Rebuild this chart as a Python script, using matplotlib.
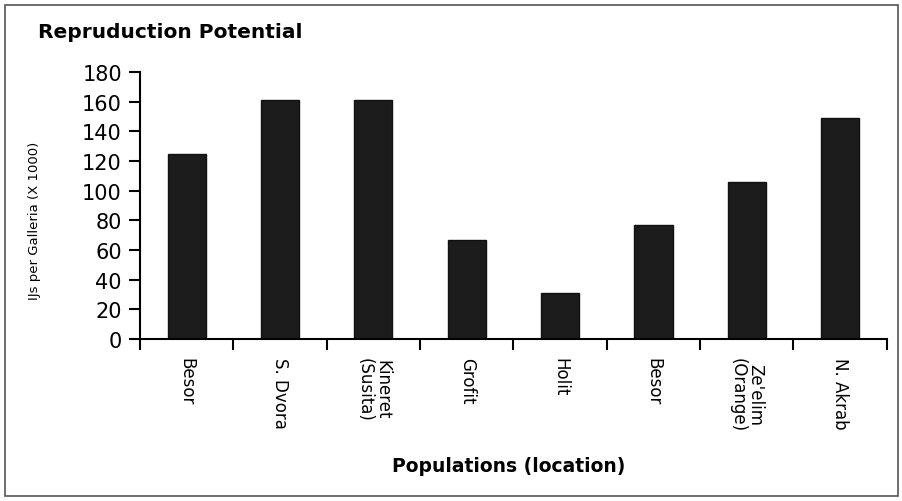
import numpy as np
import matplotlib.pyplot as plt
from matplotlib.patches import Rectangle

# populations and their reproduction potential
populations = ['Besor', 'S. Dvora', 'Kineret\n(Susita)', 'Grofit', 'Holit',
               'Besor', "Ze'elim\n(Orange)", 'N. Akrab']
ijs_per_galleria = [125, 161, 161, 67, 31, 77, 106, 149]

plt.rcParams['font.family'] = ['DejaVu Sans']

fig = plt.figure(figsize=(9.03, 5.02), dpi=100)
ax = fig.add_axes([0.155, 0.3227, 0.827, 0.532])

x = np.arange(len(populations))
ax.bar(x, ijs_per_galleria, width=0.41, color='#1c1c1c', edgecolor='#111111')

ax.set_xlim(-0.5, len(populations) - 0.5)
ax.set_ylim(0, 180)
ax.set_yticks(range(0, 181, 20))
ax.tick_params(axis='y', labelsize=15, length=8, width=1.5, pad=5)

# labels sit under each bar, tick marks on the boundaries between them
ax.set_xticks(x)
ax.set_xticklabels(populations, rotation=270, fontsize=12, va='top', ha='center',
                   linespacing=1.0)
ax.tick_params(axis='x', length=0, pad=13)
ax.set_xticks(np.arange(-0.5, len(populations)), minor=True)
ax.tick_params(axis='x', which='minor', length=8, width=1.5)

for side in ['top', 'right']:
    ax.spines[side].set_visible(False)
for side in ['left', 'bottom']:
    ax.spines[side].set_linewidth(1.5)

fig.text(0.042, 0.935, 'Repruduction Potential', fontsize=14.5, fontweight='bold',
         ha='left', va='center')
fig.text(0.038, 0.56, 'IJs per Galleria (X 1000)', fontsize=9.5, rotation=90,
         ha='center', va='center')
fig.text(0.563, 0.07, 'Populations (location)', fontsize=13.5, fontweight='bold',
         ha='center', va='center')

# page border
fig.patches.append(Rectangle((0.005, 0.01), 0.99, 0.978, transform=fig.transFigure,
                             fill=False, edgecolor='#555555', linewidth=1.2))

fig.savefig('out.png', dpi=100)
